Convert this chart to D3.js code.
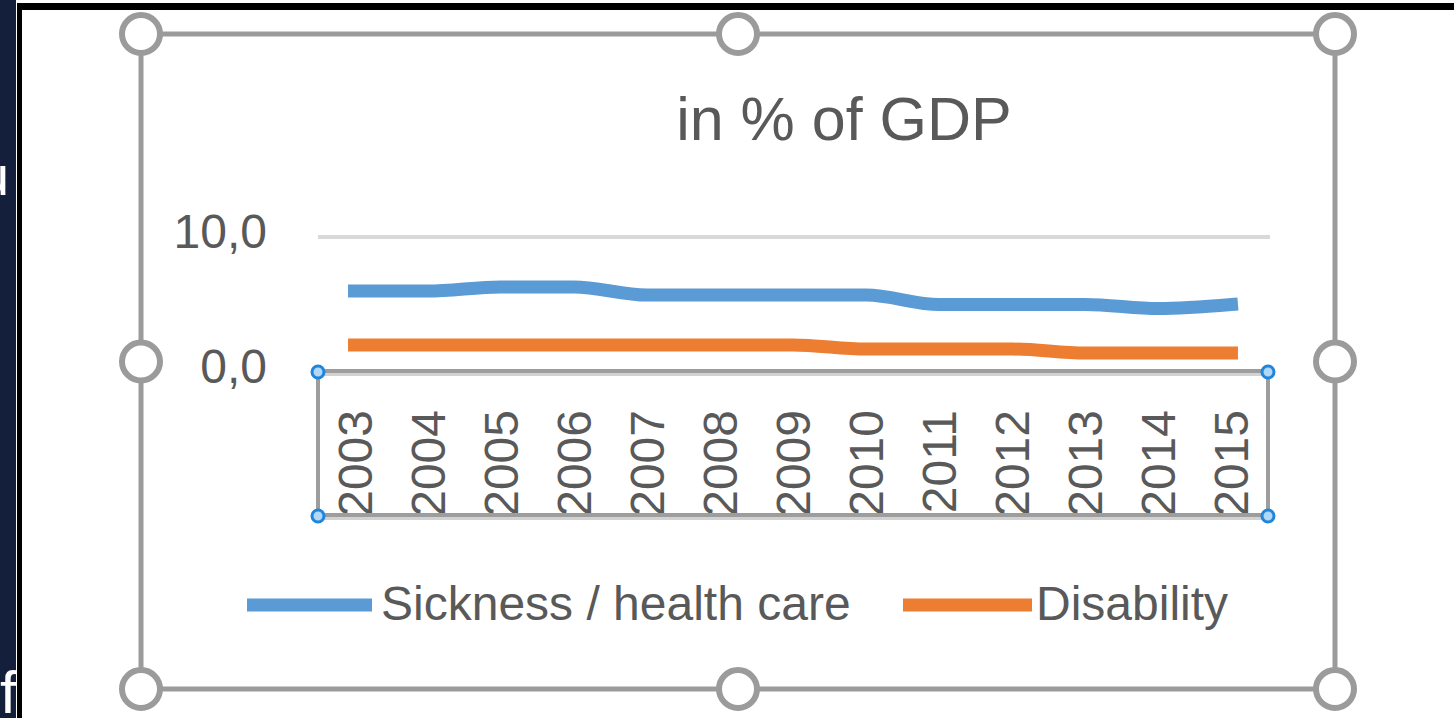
<!DOCTYPE html>
<html>
<head>
<meta charset="utf-8">
<script src="https://cdn.jsdelivr.net/npm/d3@7"></script>
<style>
  html, body { margin: 0; padding: 0; background: #fff; overflow: hidden; }
  text { font-family: "Liberation Sans", Arial, sans-serif; }
</style>
</head>
<body>
<svg id="chart" width="1454" height="718"></svg>
<script>
// chart data
const years = ["2003", "2004", "2005", "2006", "2007", "2008", "2009",
  "2010", "2011", "2012", "2013", "2014", "2015"];
const sickness = [6.0, 6.0, 6.3, 6.3, 5.7, 5.7, 5.7, 5.7, 5.0, 5.0, 5.0, 4.7, 5.0];
const disability = [2.0, 2.0, 2.0, 2.0, 2.0, 2.0, 2.0, 1.7, 1.7, 1.7, 1.4, 1.4, 1.4];
const yTicks = [0, 10];
const seriesNames = ["Sickness / health care", "Disability"];
const titleText = "in % of GDP";

const colors = ["#5b9bd5", "#ed7d31"];
const textGrey = "#595959";
const handleGrey = "#9b9b9b";

const svg = d3.select("#chart");

// plot area
const plot = { left: 318, right: 1268, top: 237, bottom: 372, axisBottom: 516 };

const x = d3.scaleBand().domain(years).range([plot.left, plot.right]);
const y = d3.scaleLinear().domain([0, 10]).range([plot.bottom, plot.top]);

// comma decimal like the original
const fmt = d3.formatLocale({ decimal: ",", thousands: ".", grouping: [3], currency: ["", ""] }).format(".1f");

// page edge: slide strip on the left, black frame
svg.append("rect").attr("x", 0).attr("y", 0).attr("width", 16).attr("height", 718).attr("fill", "#141f3c");
svg.append("clipPath").attr("id", "stripClip")
  .append("rect").attr("x", 0).attr("y", 0).attr("width", 16).attr("height", 718);
const strip = svg.append("g").attr("clip-path", "url(#stripClip)");
strip.append("text").attr("x", -22).attr("y", 195).attr("fill", "#fff")
  .style("font-size", "56px").text("u");
strip.append("text").attr("x", 0).attr("y", 713).attr("fill", "#fff")
  .style("font-size", "60px").text("f");
svg.append("rect").attr("x", 17).attr("y", 3).attr("width", 5).attr("height", 715).attr("fill", "#000");
svg.append("rect").attr("x", 17).attr("y", 3).attr("width", 1437).attr("height", 7).attr("fill", "#000");

// title
svg.append("text")
  .attr("x", 844).attr("y", 140)
  .attr("text-anchor", "middle")
  .attr("fill", textGrey)
  .style("font-size", "61px")
  .text(titleText);

// gridlines
svg.append("g").selectAll("line")
  .data(yTicks.filter((d) => d > 0))
  .join("line")
  .attr("x1", plot.left).attr("x2", plot.right + 2)
  .attr("y1", (d) => y(d)).attr("y2", (d) => y(d))
  .attr("stroke", "#d9d9d9").attr("stroke-width", 4);

// y axis labels
svg.append("g").selectAll("text")
  .data(yTicks)
  .join("text")
  .attr("x", 267)
  .attr("y", (d) => y(d) + 11)
  .attr("text-anchor", "end")
  .attr("fill", textGrey)
  .style("font-size", "48px")
  .text((d) => fmt(d));

// category labels, rotated
svg.append("g").selectAll("text")
  .data(years)
  .join("text")
  .attr("transform", (d) => `translate(${x(d) + x.bandwidth() / 2 + 17},410) rotate(-90)`)
  .attr("text-anchor", "end")
  .attr("fill", textGrey)
  .style("font-size", "48px")
  .text((d) => d);

// series lines, smoothed
const line = d3.line()
  .x((d, i) => x(years[i]) + x.bandwidth() / 2)
  .y((d) => y(d))
  .curve(d3.curveMonotoneX);

[sickness, disability].forEach((values, i) => {
  svg.append("path")
    .attr("d", line(values))
    .attr("fill", "none")
    .attr("stroke", colors[i])
    .attr("stroke-width", 13)
    .attr("stroke-linecap", "square");
});

// selection box round the axis labels
const sel = svg.append("g");
sel.append("rect")
  .attr("x", plot.left).attr("y", plot.bottom + 2)
  .attr("width", plot.right - plot.left).attr("height", plot.axisBottom - plot.bottom)
  .attr("fill", "none").attr("stroke", "#d2d2d2").attr("stroke-width", 4);
sel.append("rect")
  .attr("x", plot.left).attr("y", plot.bottom - 1)
  .attr("width", plot.right - plot.left).attr("height", plot.axisBottom - plot.bottom)
  .attr("fill", "none").attr("stroke", "#9d9d9d").attr("stroke-width", 4);
sel.selectAll("circle")
  .data([[plot.left, plot.bottom], [plot.right, plot.bottom], [plot.left, plot.axisBottom], [plot.right, plot.axisBottom]])
  .join("circle")
  .attr("cx", (d) => d[0]).attr("cy", (d) => d[1])
  .attr("r", 6)
  .attr("fill", "#b3d8f5").attr("stroke", "#1f86dc").attr("stroke-width", 3);

// legend
const legendItems = [
  { x1: 247, x2: 372, tx: 381 },
  { x1: 903, x2: 1032, tx: 1036 },
];
const legend = svg.append("g");
legendItems.forEach((item, i) => {
  legend.append("line")
    .attr("x1", item.x1).attr("x2", item.x2)
    .attr("y1", 605).attr("y2", 605)
    .attr("stroke", colors[i]).attr("stroke-width", 13);
  legend.append("text")
    .attr("x", item.tx).attr("y", 620)
    .attr("fill", textGrey)
    .style("font-size", "48px")
    .text(seriesNames[i]);
});

// chart selection frame with handles
const frame = { left: 141, right: 1335, top: 34, bottom: 689 };
const midX = (frame.left + frame.right) / 2;
const midY = (frame.top + frame.bottom) / 2;
svg.append("rect")
  .attr("x", frame.left).attr("y", frame.top)
  .attr("width", frame.right - frame.left).attr("height", frame.bottom - frame.top)
  .attr("fill", "none").attr("stroke", handleGrey).attr("stroke-width", 5);

const handles = [
  [frame.left, frame.top], [midX, frame.top], [frame.right, frame.top],
  [frame.left, midY], [frame.right, midY],
  [frame.left, frame.bottom], [midX, frame.bottom], [frame.right, frame.bottom],
];
svg.append("g").selectAll("circle")
  .data(handles)
  .join("circle")
  .attr("cx", (d) => d[0]).attr("cy", (d) => d[1])
  .attr("r", 19)
  .attr("fill", "#fff").attr("stroke", handleGrey).attr("stroke-width", 6);
</script>
</body>
</html>
